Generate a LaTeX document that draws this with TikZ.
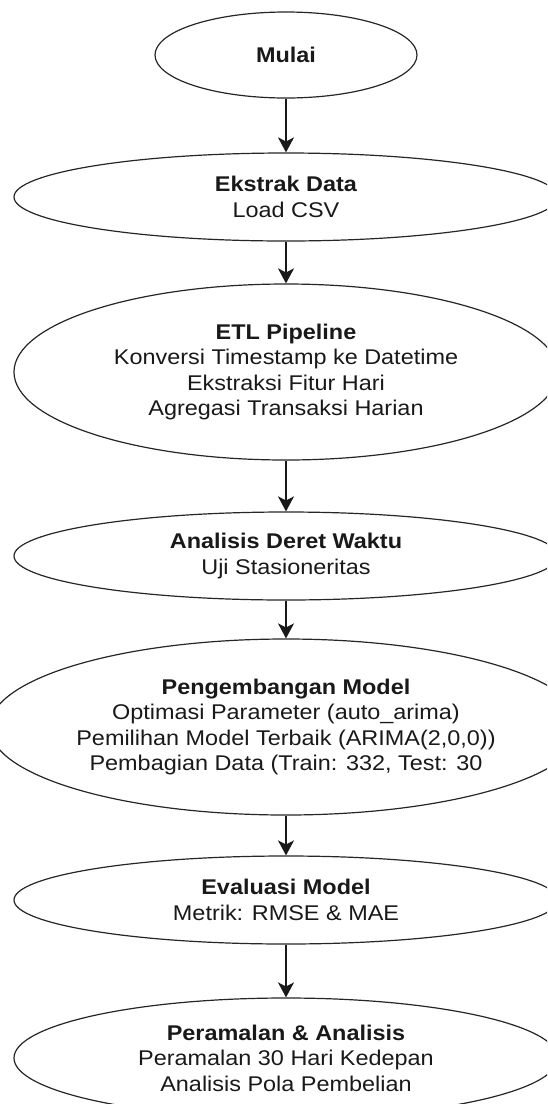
\documentclass[tikz,border=0pt]{standalone}
\usepackage{fontspec}
\setmainfont{Liberation Sans}[FakeStretch=1.1]
\usetikzlibrary{shapes.geometric,arrows.meta}
\begin{document}
\begin{tikzpicture}[x=1pt,y=-1pt,
  flowell/.style={ellipse, draw=black!85, line width=1.2pt, fill=white, inner sep=0pt,
    align=center, text=black!90, font=\fontsize{21.3}{25.5}\selectfont},
  conn/.style={draw=black!90, line width=1.4pt, -{Stealth[length=15pt,width=16pt,inset=4pt]}}]
\useasboundingbox (0,0) rectangle (547,1104);
\clip (0,0) rectangle (547,1104);
\node[flowell, minimum width=262pt, minimum height=86pt] (n1) at (286,55) {\textbf{Mulai}};
\node[flowell, minimum width=544pt, minimum height=88pt] (n2) at (286,197) {\textbf{Ekstrak Data}\\Load CSV};
\node[flowell, minimum width=544pt, minimum height=176pt] (n3) at (286,372) {\textbf{ETL Pipeline}\\Konversi Timestamp ke Datetime\\Ekstraksi Fitur Hari\\Agregasi Transaksi Harian};
\node[flowell, minimum width=544pt, minimum height=88pt] (n4) at (286,556) {\textbf{Analisis Deret Waktu}\\Uji Stasioneritas};
\node[flowell, minimum width=544pt, minimum height=176pt] (n5) at (286,727) {\textbf{Pengembangan Model}\\Optimasi Parameter (auto\_arima)\\Pemilihan Model Terbaik (ARIMA(2,0,0))\\Pembagian Data (Train: 332, Test: 30};
\node[flowell, minimum width=544pt, minimum height=88pt] (n6) at (286,900) {\textbf{Evaluasi Model}\\Metrik: RMSE \& MAE};
\node[flowell, minimum width=544pt, minimum height=120pt] (n7) at (286,1058) {\textbf{Peramalan \& Analisis}\\Peramalan 30 Hari Kedepan\\Analisis Pola Pembelian};
\draw[conn] (n1.south) -- (n2.north);
\draw[conn] (n2.south) -- (n3.north);
\draw[conn] (n3.south) -- (n4.north);
\draw[conn] (n4.south) -- (n5.north);
\draw[conn] (n5.south) -- (n6.north);
\draw[conn] (n6.south) -- (n7.north);
\end{tikzpicture}
\end{document}
